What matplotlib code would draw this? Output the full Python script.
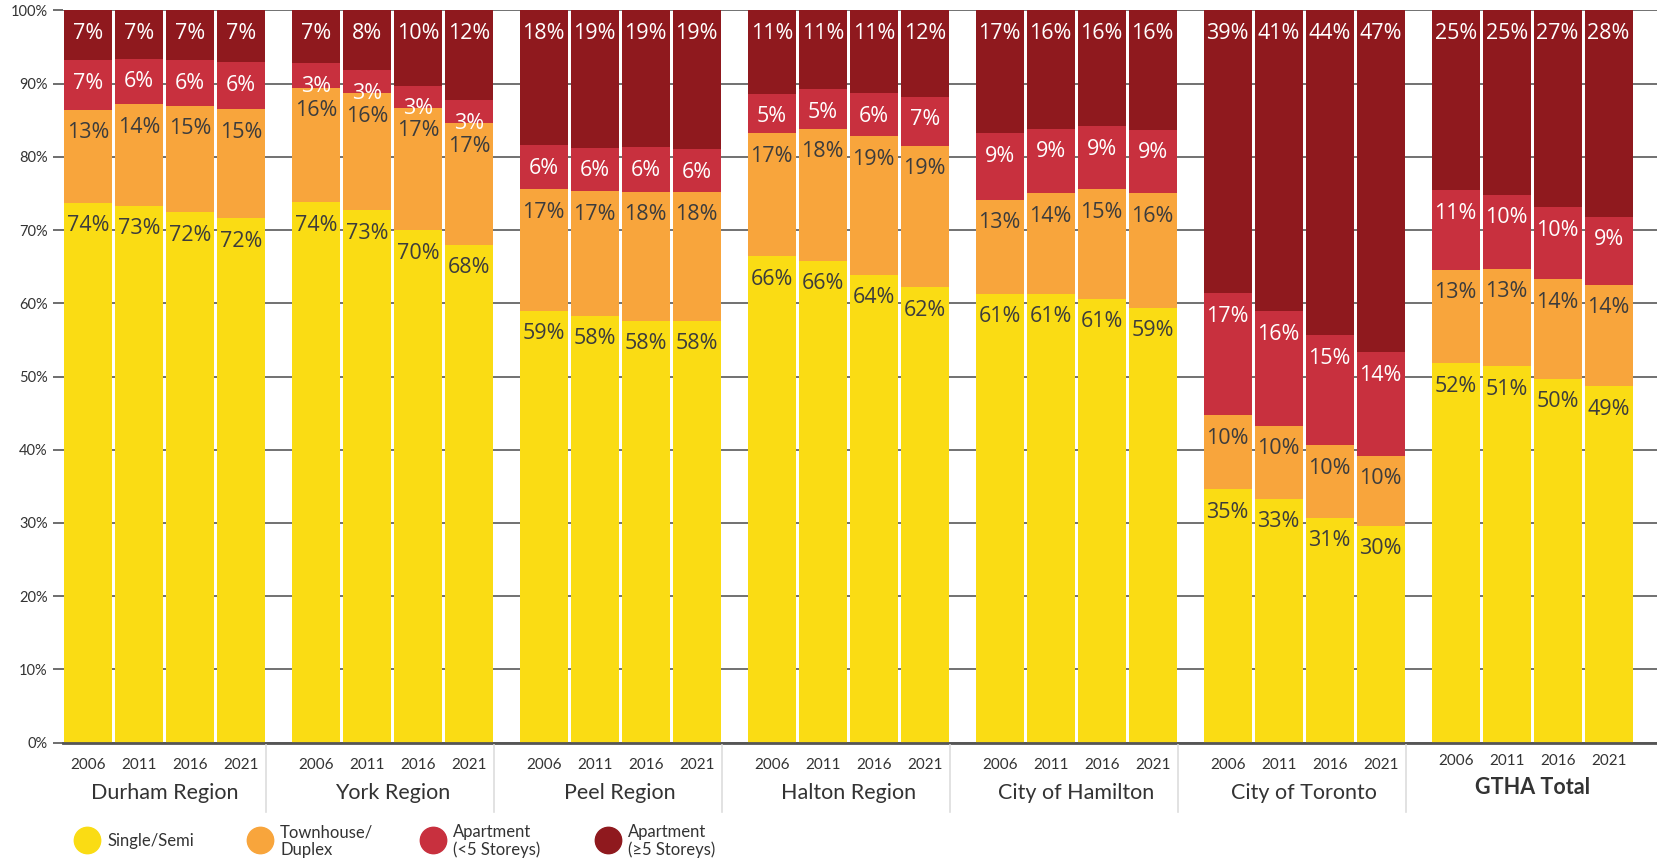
import matplotlib
matplotlib.use("Agg")
import matplotlib.pyplot as plt
from matplotlib.lines import Line2D
from matplotlib.transforms import blended_transform_factory

# Share of dwellings by structure type (percent), one row per region, one column per census year
regions = ["Durham Region", "York Region", "Peel Region", "Halton Region",
           "City of Hamilton", "City of Toronto", "GTHA Total"]
years = ["2006", "2011", "2016", "2021"]

single_semi = [
    [73.7, 73.3, 72.4, 71.6],
    [73.8, 72.7, 70.0, 68.0],
    [59.0, 58.3, 57.6, 57.6],
    [66.4, 65.8, 63.9, 62.2],
    [61.3, 61.3, 60.6, 59.4],
    [34.6, 33.3, 30.7, 29.6],
    [51.8, 51.4, 49.7, 48.7],
]
townhouse = [
    [12.7, 13.9, 14.6, 14.9],
    [15.6, 16.0, 16.7, 16.6],
    [16.6, 17.0, 17.6, 17.6],
    [16.8, 18.0, 18.9, 19.3],
    [12.8, 13.7, 15.0, 15.6],
    [10.1, 10.0, 9.9, 9.6],
    [12.8, 13.3, 13.6, 13.8],
]
apt_low = [
    [6.8, 6.2, 6.2, 6.4],
    [3.4, 3.1, 3.0, 3.1],
    [6.0, 5.9, 6.1, 5.8],
    [5.4, 5.4, 5.9, 6.7],
    [9.1, 8.8, 8.6, 8.7],
    [16.7, 15.6, 15.0, 14.1],
    [10.8, 10.1, 9.8, 9.3],
]
apt_high = [
    [6.8, 6.6, 6.8, 7.1],
    [7.2, 8.2, 10.3, 12.3],
    [18.4, 18.8, 18.7, 19.0],
    [11.4, 10.8, 11.3, 11.8],
    [16.8, 16.2, 15.8, 16.3],
    [38.6, 41.1, 44.4, 46.7],
    [24.6, 25.2, 26.9, 28.2],
]

series = [
    ("Single/Semi", single_semi, "#FADC14", "#3c3c3c"),
    ("Townhouse/\nDuplex", townhouse, "#F8A53C", "#3c3c3c"),
    ("Apartment\n(<5 Storeys)", apt_low, "#C8303E", "white"),
    ("Apartment\n(\u22655 Storeys)", apt_high, "#8F191E", "white"),
]

W, H = 1657, 866
GROUP_STEP = 4.47
BAR_W = 0.935
UNIT_PX = 51.0
X0_PX = 87.85

fig = plt.figure(figsize=(W / 100, H / 100), dpi=100)
ax = fig.add_axes([63 / W, (H - 742.7) / H, 1 - 63 / W, (742.7 - 10.3) / H])

for g, region in enumerate(regions):
    for i, year in enumerate(years):
        x = g * GROUP_STEP + i
        bottom = 0.0
        for name, data, color, txt_color in series:
            v = data[g][i]
            ax.bar(x, v, width=BAR_W, bottom=bottom, color=color, linewidth=0, zorder=2)
            ax.annotate(f"{round(v)}%", (x, bottom + v), xytext=(0, -9),
                        textcoords="offset points", ha="center", va="top",
                        fontsize=15.5, family="Open Sans", color=txt_color, zorder=3)
            bottom += v

ax.set_ylim(0, 100)
ax.set_xlim((63 - X0_PX) / UNIT_PX, (W - X0_PX) / UNIT_PX)
ax.set_yticks(range(0, 101, 10))
ax.set_yticklabels([f"{t}%" for t in range(0, 101, 10)], family="Lato", fontsize=10.5, color="#333333")
ax.tick_params(axis="y", length=7, width=1.2, color="#555555", pad=4)
ax.set_xticks([])
ax.yaxis.grid(True, color="#4a4a4a", linewidth=1.1, zorder=0)
ax.set_axisbelow(True)
for side in ["top", "right", "left"]:
    ax.spines[side].set_visible(False)
ax.spines["bottom"].set_color("#555555")
ax.spines["bottom"].set_linewidth(2)

# year labels, region names and separators under each group
trans = blended_transform_factory(ax.transData, fig.transFigure)
for g, region in enumerate(regions):
    last = g == len(regions) - 1
    yr_y = (H - (761 if last else 765)) / H
    for i, year in enumerate(years):
        fig.text(0, 0, year, transform=trans, ha="center", va="center",
                 fontsize=11, family="Lato", color="#333333").set_position((g * GROUP_STEP + i, yr_y))
    cx = g * GROUP_STEP + 1.5
    name_y = (H - (787 if last else 793)) / H
    fig.text(0, 0, region, transform=trans, ha="center", va="center",
             fontsize=15.5, family="Lato", fontweight="bold" if last else "normal",
             color="#333333").set_position((cx, name_y))
    if not last:
        sx = g * GROUP_STEP + 3 + BAR_W / 2 + 0.02
        fig.add_artist(Line2D([sx, sx], [(H - 745) / H, (H - 812) / H], transform=trans,
                              color="#dddddd", linewidth=1.2))

# legend
leg_x = [87, 260, 433, 608]
for (name, data, color, txt_color), lx in zip(series, leg_x):
    fig.add_artist(Line2D([lx / W], [(H - 840) / H], marker="o", markersize=19,
                          color=color, linestyle="none", transform=fig.transFigure))
    fig.text((lx + 20) / W, (H - 841) / H, name, ha="left", va="center",
             fontsize=12, family="Lato", color="#333333", linespacing=1.1)

fig.savefig("out.png", dpi=100, facecolor="white")
